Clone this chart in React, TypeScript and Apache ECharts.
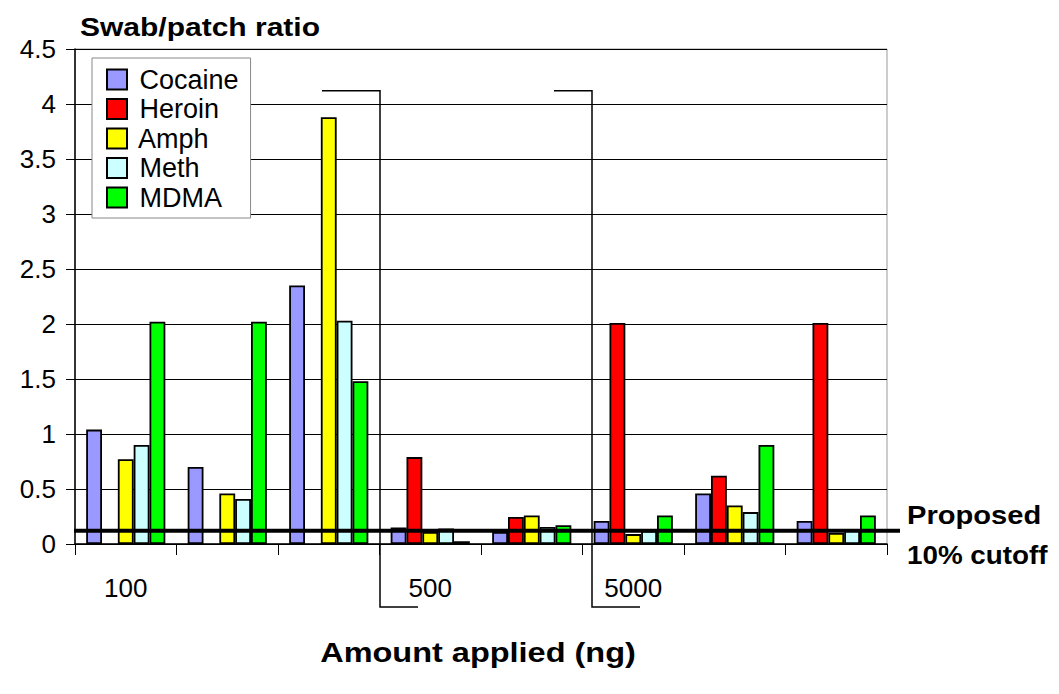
import React, { useEffect, useRef } from "react";
import * as echarts from "echarts";

const categories = ["100", "", "", "500", "", "5000", "", ""];
const seriesNames = ["Cocaine", "Heroin", "Amph", "Meth", "MDMA"];
const seriesColors = ["#9999FF", "#FF0000", "#FFFF00", "#CCFFFF", "#00FF00"];
const cocaine = [1.04, 0.7, 2.35, 0.15, 0.11, 0.21, 0.46, 0.21];
const heroin = [null, null, null, 0.79, 0.245, 2.01, 0.62, 2.01];
const amph = [0.77, 0.46, 3.88, 0.11, 0.26, 0.09, 0.35, 0.1];
const meth = [0.9, 0.41, 2.03, 0.14, 0.155, 0.12, 0.29, 0.13];
const mdma = [2.02, 2.02, 1.48, 0.025, 0.17, 0.26, 0.9, 0.26];
const cutoff = 0.12;
const bracketTop = 4.12;

const FONT = "'Liberation Sans', Arial, sans-serif";

export default function App() {
  const ref = useRef<HTMLDivElement>(null);
  useEffect(() => {
    if (!ref.current) return;
    const chart = echarts.init(ref.current, undefined, { renderer: "svg" });
    const values = [cocaine, heroin, amph, meth, mdma];
    chart.setOption({
      animation: false,
      backgroundColor: "#fff",
      textStyle: { fontFamily: FONT },
      grid: { left: 75, right: 172, top: 49, bottom: 150, show: true, borderColor: "#999", borderWidth: 1 },
      legend: {
        orient: "vertical",
        left: 92,
        top: 58,
        padding: [8, 12, 7, 14],
        itemWidth: 20,
        itemHeight: 20,
        itemGap: 2.5,
        backgroundColor: "#fff",
        borderColor: "#888",
        borderWidth: 1,
        icon: "rect",
        formatter: (n: string) => " " + n,
        textStyle: { fontSize: 27, lineHeight: 27, color: "#000", fontFamily: FONT },
        data: seriesNames,
      },
      xAxis: {
        type: "category",
        data: categories,
        boundaryGap: true,
        axisLine: { lineStyle: { color: "#000", width: 1.5 } },
        axisTick: { show: true, interval: 0, length: 11, lineStyle: { color: "#000" } },
        axisLabel: { interval: 0, margin: 31, fontSize: 26, color: "#000", fontFamily: FONT },
        splitLine: { show: false },
      },
      yAxis: {
        type: "value",
        min: 0,
        max: 4.5,
        interval: 0.5,
        axisLine: { show: true, lineStyle: { color: "#000", width: 1.5 } },
        axisTick: { show: true, length: 9, lineStyle: { color: "#000" } },
        axisLabel: { margin: 19, fontSize: 26, color: "#000", fontFamily: FONT },
        splitLine: { show: true, lineStyle: { color: "#000", width: 1 } },
      },
      series: seriesNames.map((name, i) => ({
        name,
        type: "bar",
        data: values[i],
        barGap: "0%",
        barCategoryGap: "22%",
        itemStyle: { color: seriesColors[i], borderColor: "#000", borderWidth: 1.8 },
      })),
    });

    const cy = chart.convertToPixel({ yAxisIndex: 0 }, cutoff) as number;
    const by = chart.convertToPixel({ yAxisIndex: 0 }, bracketTop) as number;
    const lineStyle = { stroke: "#000", lineWidth: 1.5, fill: null };
    chart.setOption({
      graphic: [
        { type: "line", shape: { x1: 74, y1: cy, x2: 900, y2: cy }, style: { stroke: "#000", lineWidth: 4 }, z: 100 },
        { type: "polyline", shape: { points: [[322, by], [380, by], [380, 607], [418, 607]] }, style: lineStyle, z: 100 },
        { type: "polyline", shape: { points: [[554, by], [592, by], [592, 607], [640, 607]] }, style: lineStyle, z: 100 },
        { type: "text", x: 80, y: 15, scaleX: 1.2, style: { text: "Swab/patch ratio", font: `bold 25px ${FONT}`, fill: "#000" } },
        { type: "text", x: 478, y: 652, scaleX: 1.16, style: { text: "Amount applied (ng)", font: `bold 28px ${FONT}`, fill: "#000", align: "center", verticalAlign: "middle" } },
        { type: "text", x: 907, y: 515, scaleX: 1.12, style: { text: "Proposed", font: `bold 26px ${FONT}`, fill: "#000", verticalAlign: "middle" } },
        { type: "text", x: 907, y: 555, scaleX: 1.07, style: { text: "10% cutoff", font: `bold 26px ${FONT}`, fill: "#000", verticalAlign: "middle" } },
      ],
    });
    return () => chart.dispose();
  }, []);
  return <div ref={ref} style={{ position: "fixed", left: 0, top: 0, width: 1059, height: 694 }} />;
}
